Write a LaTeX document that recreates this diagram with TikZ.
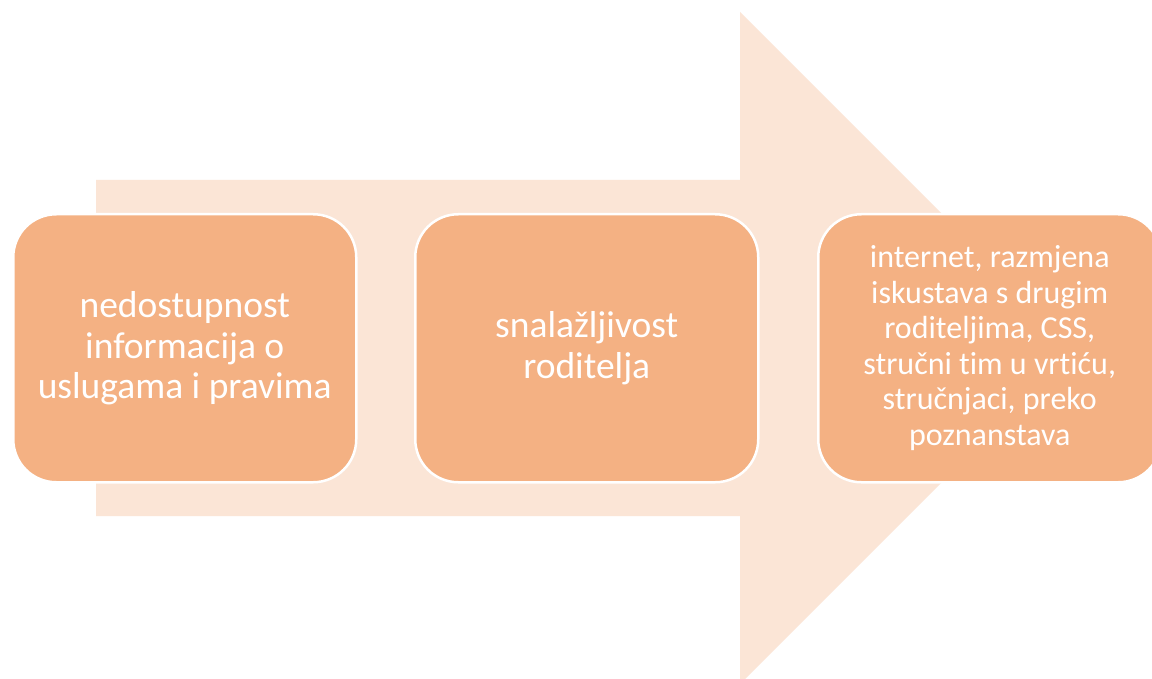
\documentclass[tikz,border=0pt]{standalone}
\usepackage{fontspec}
\setmainfont{Carlito}[Ligatures=NoCommon]
\definecolor{boxfill}{HTML}{F4B183}
\definecolor{arrowfill}{HTML}{FBE5D6}
\begin{document}
\begin{tikzpicture}[x=1pt,y=-1pt,
  stagebox/.style={draw=white, line width=2.5pt, fill=boxfill, rounded corners=43pt,
    minimum width=343pt, minimum height=268pt, inner sep=0pt, align=center,
    text=white, anchor=north west}]
\useasboundingbox (0,0) rectangle (1152,679);
\clip (0,0) rectangle (1152,679);
\fill[white] (0,0) rectangle (1152,679);
% big arrow
\fill[arrowfill] (96,180) -- (740,180) -- (740,12) -- (1076,348) -- (740,684) -- (740,516) -- (96,516) -- cycle;
\node[stagebox, font=\fontsize{37.5}{40.5}\selectfont] (b1) at (12,213)
  {nedostupnost\\informacija o\\uslugama i pravima};
\node[stagebox, font=\fontsize{37.5}{41}\selectfont] (b2) at (414,213)
  {snalažljivost\\roditelja};
\node[stagebox, font=\fontsize{32}{35.5}\selectfont] (b3) at (817,213)
  {internet, razmjena\\iskustava s drugim\\roditeljima, CSS,\\stručni tim u vrtiću,\\stručnjaci, preko\\poznanstava};
\end{tikzpicture}
\end{document}
